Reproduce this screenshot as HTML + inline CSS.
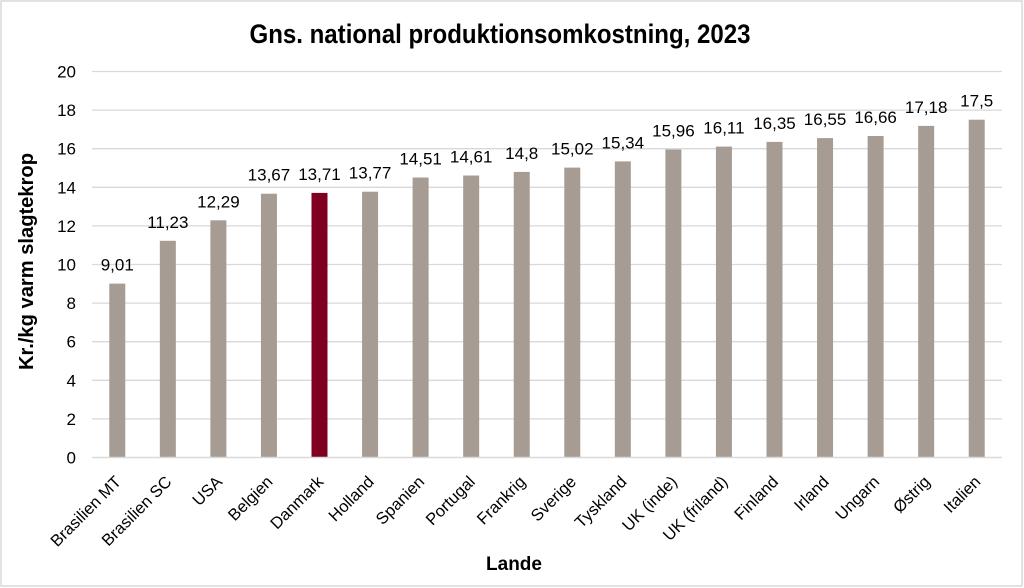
<!DOCTYPE html>
<html>
<head>
<meta charset="utf-8">
<style>
  html, body { margin: 0; padding: 0; background: #ffffff; }
  body { width: 1024px; height: 588px; overflow: hidden; }
  svg { display: block; }
  text { font-family: "Liberation Sans", "DejaVu Sans", sans-serif; fill: #000; }
</style>
</head>
<body>
<svg width="1024" height="588" viewBox="0 0 1024 588" xmlns="http://www.w3.org/2000/svg">
  <rect x="0" y="0" width="1024" height="588" fill="#fff"/>
  <rect x="1" y="1" width="1021" height="585" fill="none" stroke="#d9d9d9" stroke-width="1.5"/>

  <!-- Title -->
  <text x="500" y="43" text-anchor="middle" font-size="27" font-weight="bold" textLength="501" lengthAdjust="spacingAndGlyphs">Gns. national produktionsomkostning, 2023</text>

  <!-- Gridlines -->
  <g stroke="#d9d9d9" stroke-width="1.3">
    <line x1="92" y1="71.5" x2="1002" y2="71.5"/>
    <line x1="92" y1="110.1" x2="1002" y2="110.1"/>
    <line x1="92" y1="148.7" x2="1002" y2="148.7"/>
    <line x1="92" y1="187.3" x2="1002" y2="187.3"/>
    <line x1="92" y1="225.9" x2="1002" y2="225.9"/>
    <line x1="92" y1="264.5" x2="1002" y2="264.5"/>
    <line x1="92" y1="303.1" x2="1002" y2="303.1"/>
    <line x1="92" y1="341.7" x2="1002" y2="341.7"/>
    <line x1="92" y1="380.3" x2="1002" y2="380.3"/>
    <line x1="92" y1="418.9" x2="1002" y2="418.9"/>
  </g>

  <!-- Y tick labels -->
  <g font-size="17" text-anchor="end">
    <text x="76" y="77.5">20</text>
    <text x="76" y="116.1">18</text>
    <text x="76" y="154.7">16</text>
    <text x="76" y="193.3">14</text>
    <text x="76" y="231.9">12</text>
    <text x="76" y="270.5">10</text>
    <text x="76" y="309.1">8</text>
    <text x="76" y="347.7">6</text>
    <text x="76" y="386.3">4</text>
    <text x="76" y="424.9">2</text>
    <text x="76" y="463.5">0</text>
  </g>

  <!-- Y axis title -->
  <text transform="translate(33,261.5) rotate(-90)" text-anchor="middle" font-size="20" font-weight="bold" textLength="217" lengthAdjust="spacingAndGlyphs">Kr./kg varm slagtekrop</text>

  <!-- Bars -->
  <g fill="#a69c93">
    <rect x="109.28" y="283.6" width="16" height="173.9"/>
    <rect x="159.83" y="240.8" width="16" height="216.7"/>
    <rect x="210.39" y="220.3" width="16" height="237.2"/>
    <rect x="260.94" y="193.7" width="16" height="263.8"/>
    <rect x="362.06" y="191.7" width="16" height="265.8"/>
    <rect x="412.61" y="177.5" width="16" height="280.0"/>
    <rect x="463.17" y="175.5" width="16" height="282.0"/>
    <rect x="513.72" y="171.9" width="16" height="285.6"/>
    <rect x="564.28" y="167.6" width="16" height="289.9"/>
    <rect x="614.83" y="161.4" width="16" height="296.1"/>
    <rect x="665.39" y="149.5" width="16" height="308.0"/>
    <rect x="715.94" y="146.6" width="16" height="310.9"/>
    <rect x="766.5" y="141.9" width="16" height="315.6"/>
    <rect x="817.06" y="138.1" width="16" height="319.4"/>
    <rect x="867.61" y="136.0" width="16" height="321.5"/>
    <rect x="918.17" y="125.9" width="16" height="331.6"/>
    <rect x="968.72" y="119.7" width="16" height="337.8"/>
  </g>
  <rect x="311.5" y="192.9" width="16" height="264.6" fill="#7f0021"/>

  <!-- Axis line -->
  <line x1="92" y1="457.5" x2="1002" y2="457.5" stroke="#d9d9d9" stroke-width="1.5"/>

  <!-- Data labels -->
  <g font-size="17" text-anchor="middle">
    <text x="117.28" y="270.6">9,01</text>
    <text x="167.83" y="227.8">11,23</text>
    <text x="218.39" y="207.3">12,29</text>
    <text x="268.94" y="180.7">13,67</text>
    <text x="319.5" y="179.9">13,71</text>
    <text x="370.06" y="178.7">13,77</text>
    <text x="420.61" y="164.5">14,51</text>
    <text x="471.17" y="162.5">14,61</text>
    <text x="521.72" y="158.9">14,8</text>
    <text x="572.28" y="154.6">15,02</text>
    <text x="622.83" y="148.4">15,34</text>
    <text x="673.39" y="136.5">15,96</text>
    <text x="723.94" y="133.6">16,11</text>
    <text x="774.5" y="128.9">16,35</text>
    <text x="825.06" y="125.1">16,55</text>
    <text x="875.61" y="123.0">16,66</text>
    <text x="926.17" y="112.9">17,18</text>
    <text x="976.72" y="106.7">17,5</text>
  </g>

  <!-- X category labels -->
  <g font-size="16.5" text-anchor="end">
    <text transform="translate(114.3,475) rotate(-45)" dy="11">Brasilien MT</text>
    <text transform="translate(164.8,475) rotate(-45)" dy="11">Brasilien SC</text>
    <text transform="translate(215.4,475) rotate(-45)" dy="11">USA</text>
    <text transform="translate(265.9,475) rotate(-45)" dy="11">Belgien</text>
    <text transform="translate(316.5,475) rotate(-45)" dy="11">Danmark</text>
    <text transform="translate(367.1,475) rotate(-45)" dy="11">Holland</text>
    <text transform="translate(417.6,475) rotate(-45)" dy="11">Spanien</text>
    <text transform="translate(468.2,475) rotate(-45)" dy="11">Portugal</text>
    <text transform="translate(518.7,475) rotate(-45)" dy="11">Frankrig</text>
    <text transform="translate(569.3,475) rotate(-45)" dy="11">Sverige</text>
    <text transform="translate(619.8,475) rotate(-45)" dy="11">Tyskland</text>
    <text transform="translate(670.4,475) rotate(-45)" dy="11">UK (inde)</text>
    <text transform="translate(720.9,475) rotate(-45)" dy="11">UK (friland)</text>
    <text transform="translate(771.5,475) rotate(-45)" dy="11">Finland</text>
    <text transform="translate(822.1,475) rotate(-45)" dy="11">Irland</text>
    <text transform="translate(872.6,475) rotate(-45)" dy="11">Ungarn</text>
    <text transform="translate(923.2,475) rotate(-45)" dy="11">Østrig</text>
    <text transform="translate(973.7,475) rotate(-45)" dy="11">Italien</text>
  </g>

  <!-- X axis title -->
  <text x="514" y="570" text-anchor="middle" font-size="19" font-weight="bold">Lande</text>
</svg>
</body>
</html>
